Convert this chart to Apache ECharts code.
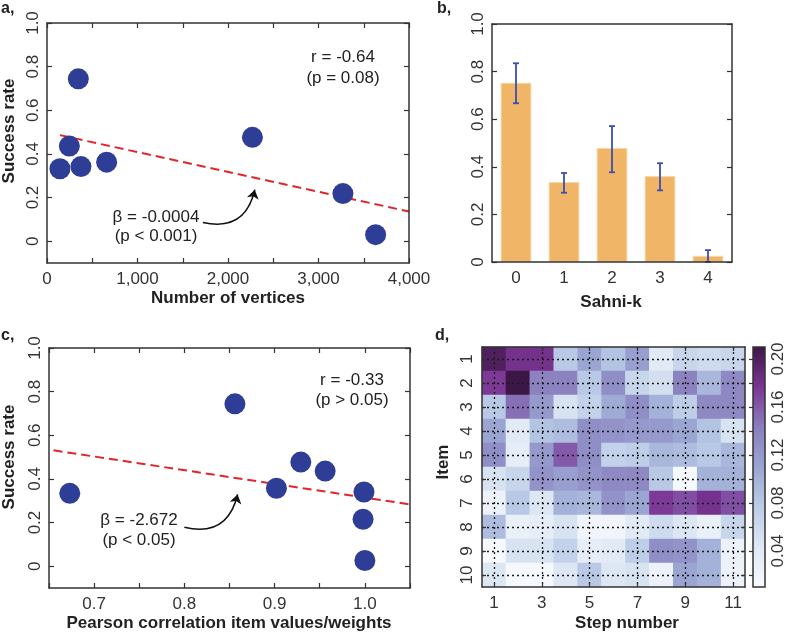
<!DOCTYPE html>
<html><head><meta charset="utf-8">
<script src="https://cdn.jsdelivr.net/npm/echarts@6/dist/echarts.min.js"></script>
<style>html,body{margin:0;padding:0;background:#fff}#c{width:787px;height:635px}</style>
</head><body><div id="c"></div>
<script>
// ---------- DATA ----------
// Panel a: number of vertices vs success rate
const verticesX = [143, 247, 346, 375, 659, 2270, 3270, 3631];
const successA  = [0.332, 0.436, 0.744, 0.342, 0.362, 0.476, 0.218, 0.030];
const fitAX = [143, 4000];
const fitAY = [0.486, 0.136];
const arrowA = [[1722, 0.086], [2296, 0.236]];
const aXTicks = [0, 500, 1000, 1500, 2000, 2500, 3000, 3500, 4000];
const aXLabels = [0, 1000, 2000, 3000, 4000];
const rateTicks = [0, 0.2, 0.4, 0.6, 0.8, 1.0];

// Panel b: Sahni-k bars with error bars
const sahniK = ['0', '1', '2', '3', '4'];
const sahniMean = [0.753, 0.336, 0.479, 0.361, 0.026];
const sahniLow  = [0.667, 0.291, 0.377, 0.301, 0.000];
const sahniHigh = [0.835, 0.374, 0.571, 0.415, 0.050];

// Panel c: Pearson correlation vs success rate
const pearsonX = [0.673, 0.856, 0.902, 0.929, 0.956, 0.999, 0.998, 1.000];
const successC = [0.334, 0.744, 0.357, 0.477, 0.436, 0.340, 0.215, 0.026];
const fitCX = [0.655, 1.05];
const fitCY = [0.531, 0.283];
const arrowC = [[0.800, 0.178], [0.859, 0.329]];
const cXTicks = [0.65, 0.70, 0.75, 0.80, 0.85, 0.90, 0.95, 1.00, 1.05];
const cXLabels = [0.7, 0.8, 0.9, 1.0];

// Panel d: heatmap (rows = items 1..10, cols = steps 1..11)
const steps = ['1','2','3','4','5','6','7','8','9','10','11'];
const items = ['1','2','3','4','5','6','7','8','9','10'];
const heatValues = [
  [0.200,0.180,0.180,0.080,0.110,0.085,0.115,0.040,0.065,0.060,0.065],
  [0.175,0.210,0.140,0.140,0.080,0.130,0.065,0.055,0.140,0.095,0.135],
  [0.080,0.150,0.120,0.050,0.070,0.105,0.130,0.100,0.075,0.135,0.135],
  [0.110,0.040,0.085,0.090,0.130,0.125,0.120,0.120,0.110,0.085,0.050],
  [0.130,0.035,0.120,0.160,0.130,0.070,0.075,0.095,0.090,0.080,0.095],
  [0.050,0.065,0.125,0.115,0.125,0.135,0.135,0.080,0.015,0.100,0.100],
  [0.025,0.080,0.045,0.100,0.095,0.125,0.110,0.175,0.165,0.180,0.165],
  [0.090,0.030,0.035,0.050,0.020,0.020,0.040,0.060,0.045,0.030,0.065],
  [0.012,0.050,0.050,0.070,0.035,0.040,0.075,0.130,0.125,0.100,0.025],
  [0.045,0.015,0.015,0.045,0.080,0.045,0.050,0.025,0.110,0.100,0.025]
];
const heatMin = 0.01, heatMax = 0.21;
const cbarTicks = [0.02,0.04,0.06,0.08,0.10,0.12,0.14,0.16,0.18,0.20];
const cbarLabels = [0.04,0.08,0.12,0.16,0.20];
const cmap = ['#f9fbfe','#dfe8f4','#bccde7','#9aa5d2','#8a7ebe','#7b3594','#3c1647'];

// ---------- STYLE ----------
const AX = '#333';
const TF = 'Liberation Sans Narrow, Liberation Sans, sans-serif';
const BF = 'Liberation Sans, Arial, sans-serif';
const tickLbl = (o) => Object.assign({show:true, fontFamily:TF, fontSize:17, color:'#333'}, o || {});
const line = {show:true, onZero:false, lineStyle:{color:AX, width:1.5}};
const tick = (vals, o) => Object.assign({show:true, inside:true, length:5, lineStyle:{color:AX, width:1.2}, customValues: vals}, o || {});
const noLbl = {show:false};
const noSplit = {show:false};

const rateFmt = v => (Math.abs(v) < 1e-9 ? '0' : v.toFixed(1));
const thouFmt = v => String(Math.round(v)).replace(/\B(?=(\d{3})+(?!\d))/g, ',');

const grids = [
  {left:47,  top:23,  width:362, height:240},   // a
  {left:492, top:24,  width:240, height:238},   // b
  {left:49,  top:348, width:361, height:240},   // c
  {left:482, top:347, width:263, height:240},   // d heatmap
  {left:753, top:347, width:12,  height:240}    // colorbar
];

const xAxis = [
  {type:'value', gridIndex:0, position:'bottom', min:0, max:4000, z:5, axisLine:line, splitLine:noSplit,
   axisTick:tick(aXTicks), axisLabel:tickLbl({customValues:aXLabels, formatter:thouFmt, margin:8})},
  {type:'value', gridIndex:0, position:'top', min:0, max:4000, z:5, axisLine:line, splitLine:noSplit,
   axisTick:tick(aXTicks), axisLabel:noLbl},
  {type:'category', gridIndex:1, position:'bottom', data:sahniK, z:5, axisLine:line, splitLine:noSplit,
   axisTick:{show:false}, axisLabel:tickLbl({margin:8, interval:0})},
  {type:'category', gridIndex:1, position:'top', data:sahniK, z:5, axisLine:line, splitLine:noSplit,
   axisTick:{show:false}, axisLabel:noLbl},
  {type:'value', gridIndex:2, position:'bottom', min:0.65, max:1.05, z:5, axisLine:line, splitLine:noSplit,
   axisTick:tick(cXTicks), axisLabel:tickLbl({customValues:cXLabels, formatter:v=>v.toFixed(1), margin:8})},
  {type:'value', gridIndex:2, position:'top', min:0.65, max:1.05, z:5, axisLine:line, splitLine:noSplit,
   axisTick:tick(cXTicks), axisLabel:noLbl},
  {type:'category', gridIndex:3, position:'bottom', data:steps, z:5, axisLine:line, splitLine:noSplit,
   axisTick:{show:true, inside:true, length:4, interval:1, alignWithLabel:true, lineStyle:{color:AX,width:1.2}},
   axisLabel:tickLbl({interval:1, margin:8})},
  {type:'category', gridIndex:3, position:'top', data:steps, z:5, axisLine:line, splitLine:noSplit,
   axisTick:{show:true, inside:true, length:4, interval:1, alignWithLabel:true, lineStyle:{color:AX,width:1.2}},
   axisLabel:noLbl},
  {type:'value', gridIndex:4, min:0, max:1, show:false}
];

const yAxis = [
  {type:'value', gridIndex:0, position:'left', min:-0.1, max:1.0, z:5, axisLine:line, splitLine:noSplit,
   axisTick:tick(rateTicks), axisLabel:tickLbl({customValues:rateTicks, formatter:rateFmt, rotate:90, margin:5})},
  {type:'value', gridIndex:0, position:'right', min:-0.1, max:1.0, z:5, axisLine:line, splitLine:noSplit,
   axisTick:tick(rateTicks), axisLabel:noLbl},
  {type:'value', gridIndex:1, position:'left', min:0, max:1.0, z:5, axisLine:line, splitLine:noSplit,
   axisTick:tick(rateTicks), axisLabel:tickLbl({customValues:rateTicks, formatter:rateFmt, rotate:90, margin:5})},
  {type:'value', gridIndex:1, position:'right', min:0, max:1.0, z:5, axisLine:line, splitLine:noSplit,
   axisTick:tick(rateTicks), axisLabel:noLbl},
  {type:'value', gridIndex:2, position:'left', min:-0.1, max:1.0, z:5, axisLine:line, splitLine:noSplit,
   axisTick:tick(rateTicks), axisLabel:tickLbl({customValues:rateTicks, formatter:rateFmt, rotate:90, margin:5})},
  {type:'value', gridIndex:2, position:'right', min:-0.1, max:1.0, z:5, axisLine:line, splitLine:noSplit,
   axisTick:tick(rateTicks), axisLabel:noLbl},
  {type:'category', gridIndex:3, position:'left', data:items, inverse:true, z:5, axisLine:line, splitLine:noSplit,
   axisTick:{show:true, inside:true, length:4, interval:0, alignWithLabel:true, lineStyle:{color:AX,width:1.2}},
   axisLabel:tickLbl({rotate:90, margin:6, interval:0, hideOverlap:false})},
  {type:'category', gridIndex:3, position:'right', data:items, inverse:true, z:5, axisLine:line, splitLine:noSplit,
   axisTick:{show:true, inside:true, length:4, interval:0, alignWithLabel:true, lineStyle:{color:AX,width:1.2}},
   axisLabel:noLbl},
  {type:'value', gridIndex:4, position:'right', min:heatMin, max:heatMax, z:5, axisLine:{show:false}, splitLine:noSplit,
   axisTick:tick(cbarTicks, {length:4}), axisLabel:tickLbl({customValues:cbarLabels, formatter:v=>v.toFixed(2), rotate:90, margin:6})}
];

const ERR = '#3a4fb3';
const heatData = [];
heatValues.forEach((row, r) => row.forEach((v, c) => heatData.push([c, r, v])));

const dotted = {color:'#1a1a1a', type:[2,3], width:1.3};
const heatLines = [];
steps.forEach((s, i) => { if (i % 2 === 0) heatLines.push({xAxis:i}); });
items.forEach((s, j) => heatLines.push({yAxis:j}));

const zip = (a, b) => a.map((v, i) => [v, b[i]]);

const series = [
  {type:'line', xAxisIndex:0, yAxisIndex:0, data:zip(fitAX, fitAY), symbol:'none', z:2,
   lineStyle:{color:'#e0262a', width:2, type:[9,5]}},
  {type:'scatter', xAxisIndex:0, yAxisIndex:0, data:zip(verticesX, successA), symbolSize:21, z:3,
   itemStyle:{color:'#2e3e97', opacity:1}},
  {type:'lines', coordinateSystem:'cartesian2d', xAxisIndex:0, yAxisIndex:0, z:4,
   data:[{coords:arrowA}], symbol:['none','arrow'], symbolSize:9,
   lineStyle:{color:'#111', width:1.6, curveness:-0.5, opacity:1}},
  {type:'bar', xAxisIndex:2, yAxisIndex:2, data:sahniMean, barWidth:'64%', z:2,
   itemStyle:{color:'#f0b566', borderColor:'#f7d7a6', borderWidth:1}},
  {type:'custom', xAxisIndex:2, yAxisIndex:2, z:3,
   data:sahniK.map((k, i) => [i, sahniLow[i], sahniHigh[i]]),
   encode:{x:0, y:[1,2]},
   renderItem:function(params, api){
     const x = api.value(0);
     const p1 = api.coord([x, api.value(1)]);
     const p2 = api.coord([x, api.value(2)]);
     const w = 3;
     const st = {stroke:ERR, lineWidth:1.8};
     return {type:'group', children:[
       {type:'line', shape:{x1:p1[0], y1:p1[1], x2:p2[0], y2:p2[1]}, style:st},
       {type:'line', shape:{x1:p1[0]-w, y1:p1[1], x2:p1[0]+w, y2:p1[1]}, style:st},
       {type:'line', shape:{x1:p2[0]-w, y1:p2[1], x2:p2[0]+w, y2:p2[1]}, style:st}
     ]};
   }},
  {type:'line', xAxisIndex:4, yAxisIndex:4, data:zip(fitCX, fitCY), symbol:'none', z:2,
   lineStyle:{color:'#e0262a', width:2, type:[9,5]}},
  {type:'scatter', xAxisIndex:4, yAxisIndex:4, data:zip(pearsonX, successC), symbolSize:21, z:3,
   itemStyle:{color:'#2e3e97', opacity:1}},
  {type:'lines', coordinateSystem:'cartesian2d', xAxisIndex:4, yAxisIndex:4, z:4,
   data:[{coords:arrowC}], symbol:['none','arrow'], symbolSize:9,
   lineStyle:{color:'#111', width:1.6, curveness:-0.5, opacity:1}},
  {type:'heatmap', xAxisIndex:6, yAxisIndex:6, data:heatData, z:2,
   itemStyle:{borderWidth:0}, emphasis:{disabled:true},
   markLine:{silent:true, symbol:['none','none'], label:{show:false}, lineStyle:dotted, data:heatLines, animation:false}}
];

const txt = (t, x, y, o) => ({type:'text', x:x, y:y, z:10, style:Object.assign({text:t, fill:'#222',
  fontFamily:BF, fontSize:17, align:'center', verticalAlign:'middle'}, o || {})});
const title = (t, x, y, rot) => Object.assign(txt(t, x, y, {fontWeight:'bold', fontSize:17}), rot ? {rotation:Math.PI/2} : {});
const letter = (t, x, y) => txt(t, x, y, {fontWeight:'bold', fontSize:16, align:'left'});

const gradStops = cmap.map((c, i) => ({offset:i/(cmap.length-1), color:c}));
const cb = grids[4];

const graphic = [
  letter('a,', 1, 9), letter('b,', 437, 9), letter('c,', 1, 336), letter('d,', 435, 336),
  title('Success rate', 9, 131, true),
  title('Number of vertices', 228, 298),
  title('Sahni-k', 611, 302),
  title('Success rate', 9, 457, true),
  title('Pearson correlation item values/weights', 229, 623),
  title('Item', 443, 462, true),
  title('Step number', 627, 623),
  txt('r = -0.64', 343, 57), txt('(p = 0.08)', 343, 78),
  txt('\u03B2 = -0.0004', 156, 217), txt('(p < 0.001)', 156, 236),
  txt('r = -0.33', 352, 380), txt('(p > 0.05)', 352, 400),
  txt('\u03B2 = -2.672', 139, 520), txt('(p < 0.05)', 139, 540),
  {type:'rect', x:cb.left, y:cb.top, z:1, shape:{width:cb.width, height:cb.height},
   style:{fill:new echarts.graphic.LinearGradient(0, 1, 0, 0, gradStops), stroke:AX, lineWidth:1.5}}
];

const chart = echarts.init(document.getElementById('c'), null, {renderer:'canvas'});
chart.setOption({
  animation:false,
  backgroundColor:'#fff',
  grid:grids,
  xAxis:xAxis,
  yAxis:yAxis,
  visualMap:{type:'continuous', show:false, min:heatMin, max:heatMax, seriesIndex:8, inRange:{color:cmap}},
  series:series,
  graphic:graphic
});
</script></body></html>
